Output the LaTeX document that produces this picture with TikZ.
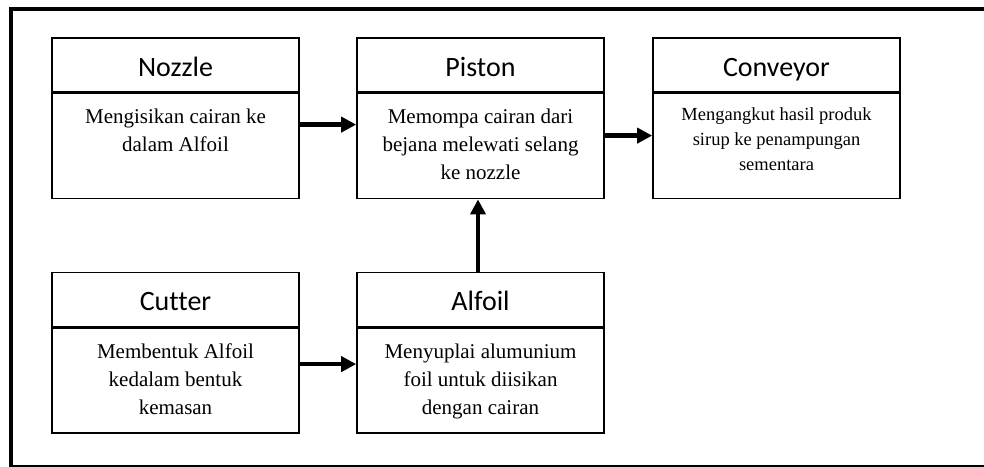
\documentclass[tikz,border=0pt]{standalone}
\usepackage{fontspec}
\setmainfont[Ligatures=NoCommon]{Liberation Serif}
\newfontfamily\headfont[Ligatures=NoCommon]{Carlito}
\usetikzlibrary{positioning,arrows.meta}

\begin{document}
\begin{tikzpicture}[
  x=1pt, y=-1pt,
  head/.style={draw, line width=1.6pt, minimum width=247pt, minimum height=54pt, inner sep=0pt, text height=24pt, text depth=2pt, font=\headfont\fontsize{28}{34}\selectfont},
  body/.style={draw, line width=1.6pt, minimum width=247pt, minimum height=105pt, inner sep=0pt},
  desc/.style={align=center, inner sep=0pt, font=\fontsize{21}{28}\selectfont},
  flow/.style={line width=4.5pt, -{Triangle[length=15pt,width=15pt]}}
]
\useasboundingbox (0,0) rectangle (984,466);
\draw[line width=4pt] (11,9) rectangle (1000,467);

\node[head] (nozzle) at (175.5,65) {Nozzle};
\node[body, below=0pt of nozzle] (nozzleB) {};
\node[desc, below=16pt of nozzleB.north] {Mengisikan cairan ke\\dalam Alfoil};

\node[head] (piston) at (480.5,65) {Piston};
\node[body, below=0pt of piston] (pistonB) {};
\node[desc, below=16pt of pistonB.north] {Memompa cairan dari\\bejana melewati selang\\ke nozzle};

\node[head] (conveyor) at (776.5,65) {Conveyor};
\node[body, below=0pt of conveyor] (conveyorB) {};
\node[desc, font=\fontsize{18.5}{25}\selectfont, below=15pt of conveyorB.north] {Mengangkut hasil produk\\sirup ke penampungan\\sementara};

\node[head] (cutter) at (175.5,299.5) {Cutter};
\node[body, below=0pt of cutter] (cutterB) {};
\node[desc, below=16pt of cutterB.north] {Membentuk Alfoil\\kedalam bentuk\\kemasan};

\node[head] (alfoil) at (480.5,299.5) {Alfoil};
\node[body, below=0pt of alfoil] (alfoilB) {};
\node[desc, below=16pt of alfoilB.north] {Menyuplai alumunium\\foil untuk diisikan\\dengan cairan};

\draw[flow] ([yshift=21.5pt]nozzleB.east) -- ([yshift=21.5pt]pistonB.west);
\draw[flow] ([yshift=10.5pt]pistonB.east) -- ([yshift=10.5pt]conveyorB.west);
\draw[flow] ([yshift=16.5pt]cutterB.east) -- ([yshift=16.5pt]alfoilB.west);
\draw[flow] ([xshift=-2.5pt]alfoil.north) -- ([xshift=-2.5pt]pistonB.south);
\end{tikzpicture}
\end{document}
